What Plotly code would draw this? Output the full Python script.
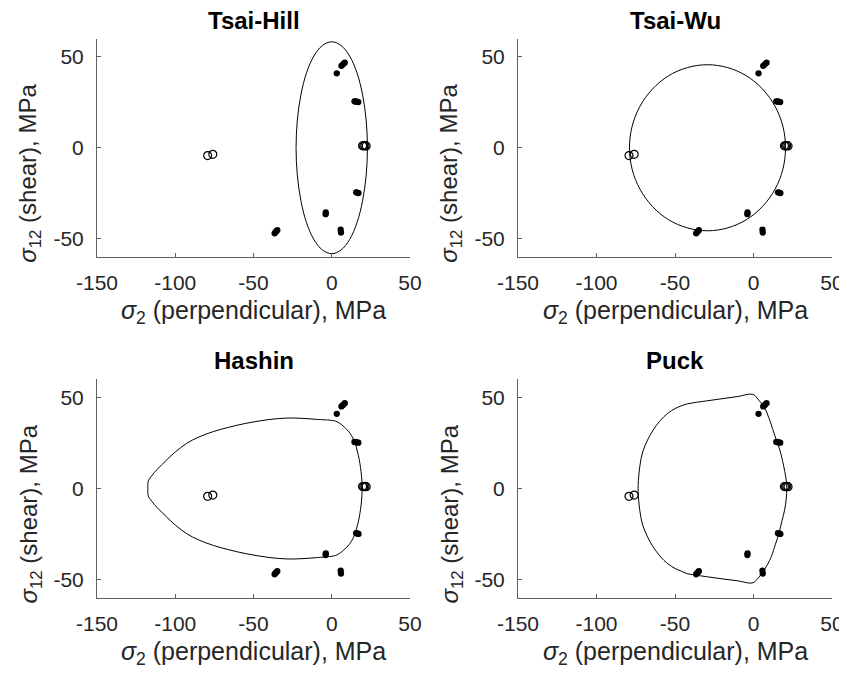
import plotly.graph_objects as go

# ---------------- data ----------------
titles = ["Tsai-Hill", "Tsai-Wu", "Hashin", "Puck"]

# measured failure points: filled dots (sigma_2, sigma_12) in MPa
dots_x = [6.2, 7.2, 8.3, 3.2,
          14.5, 15.3, 16.1, 17.0,
          15.6, 16.3, 17.1,
          -3.8, -3.9,
          5.7, 5.9,
          -36.5, -35.7, -34.8]
dots_y = [45.0, 45.8, 46.7, 40.9,
          25.5, 25.4, 25.3, 25.1,
          -24.5, -24.6, -24.9,
          -35.5, -36.5,
          -45.0, -46.6,
          -47.0, -46.1, -45.3]

# measured failure points: open circles
rings_x = [19.7, 20.4, 21.2, 22.0, -79.3, -76.0]
rings_y = [1.1, 1.0, 1.2, 1.0, -4.3, -3.6]

# failure envelopes (sigma_2, sigma_12)
tsai_hill_x = [22.8, 22.0, 19.7, 16.1, 11.4, 5.9, 0.0, -5.9, -11.4, -16.1, -19.7, -22.0,
               -22.8, -22.0, -19.7, -16.1, -11.4, -5.9, 0.0, 5.9, 11.4, 16.1, 19.7, 22.0, 22.8]
tsai_hill_y = [0.0, 15.1, 29.1, 41.2, 50.4, 56.2, 58.2, 56.2, 50.4, 41.2, 29.1, 15.1,
               0.0, -15.1, -29.1, -41.2, -50.4, -56.2, -58.2, -56.2, -50.4, -41.2, -29.1, -15.1, 0.0]

tsai_wu_x = [20.4, 18.7, 13.7, 5.8, -4.5, -16.4, -29.3, -42.2, -54.2, -64.4, -72.3, -77.3,
             -79.0, -77.3, -72.3, -64.4, -54.2, -42.2, -29.3, -16.4, -4.5, 5.8, 13.7, 18.7, 20.4]
tsai_wu_y = [0.0, 11.8, 22.8, 32.2, 39.5, 44.0, 45.6, 44.0, 39.5, 32.2, 22.8, 11.8,
             0.0, -11.8, -22.8, -32.2, -39.5, -44.0, -45.6, -44.0, -39.5, -32.2, -22.8, -11.8, 0.0]

hashin_x = [19.4, 19.0, 17.6, 16.3, 14.9, 11.7, 9.0, 6.4, 3.5, 1.0, -10.0, -20.2, -28.7,
            -40.0, -54.3, -66.0, -75.6, -85.0, -92.6, -100.0, -105.4, -111.5, -115.0, -117.2,
            -117.5,
            -117.2, -115.0, -111.5, -105.4, -100.0, -92.6, -85.0, -75.6, -66.0, -54.3, -40.0,
            -28.7, -20.2, -10.0, 1.0, 3.5, 6.4, 9.0, 11.7, 14.9, 16.3, 17.6, 19.0, 19.4]
hashin_y = [0.0, 7.0, 15.7, 20.5, 24.9, 30.3, 32.8, 34.9, 36.5, 37.2, 37.9, 38.5, 38.6,
            37.8, 35.8, 33.5, 31.2, 28.2, 24.8, 20.0, 15.7, 10.5, 7.0, 4.2,
            0.0,
            -4.2, -7.0, -10.5, -15.7, -20.0, -24.8, -28.2, -31.2, -33.5, -35.8, -37.8,
            -38.6, -38.5, -37.9, -37.0, -36.3, -34.7, -32.6, -30.1, -24.8, -20.5, -15.7, -7.0, 0.0]

puck_x = [21.2, 20.6, 19.1, 16.8, 14.8, 12.3, 10.0, 7.0, 3.5, -0.4, -10.0, -20.0, -30.0,
          -38.0, -42.5, -46.0, -50.0, -54.0, -57.0, -60.0, -64.0, -67.5, -70.6, -72.3, -73.3,
          -73.5,
          -73.3, -72.3, -70.6, -67.5, -64.0, -60.0, -57.0, -54.0, -50.0, -46.0, -42.5, -38.0,
          -30.0, -20.0, -10.0, -0.4, 3.5, 6.0, 9.0, 11.3, 14.0, 16.2, 18.2, 19.8, 20.8, 21.2]
puck_y = [0.5, 6.0, 12.8, 21.0, 26.0, 32.3, 38.2, 44.3, 48.2, 51.6, 50.4, 49.2, 48.0,
          47.0, 46.3, 45.3, 43.8, 41.6, 39.4, 36.6, 31.9, 26.5, 20.0, 12.8, 4.5,
          0.0,
          -4.5, -12.8, -20.0, -26.5, -31.9, -36.6, -39.4, -41.6, -43.8, -45.3, -46.6, -47.3,
          -48.3, -49.5, -50.6, -51.7, -48.5, -45.6, -41.5, -37.4, -30.5, -24.6, -17.5, -11.9, -6.0, 0.5]

envelopes = [(tsai_hill_x, tsai_hill_y), (tsai_wu_x, tsai_wu_y),
             (hashin_x, hashin_y), (puck_x, puck_y)]

x_ticks = [-150, -100, -50, 0, 50]
x_tick_labels = ["-150", "-100", "-50", "0", "50"]
y_ticks = [-50, 0, 50]
y_tick_labels = ["-50", "0", "50"]
x_range = [-150, 50]
y_range = [-60, 60]

# ---------------- layout geometry ----------------
OFF = 8                                   # browser's default body margin
W, H = 847 - OFF, 676 - 2 * OFF           # keep the page free of scrollbars
col_px = [(97 - OFF, 410 - OFF), (518 - OFF, 832 - OFF)]      # axes x extents
row_px = [(38.5 - OFF, 257 - OFF), (379 - OFF, 598 - OFF)]    # axes y extents

TXT = "#262626"
AX = "#606060"
FONT = "Liberation Sans, Arial, Helvetica, sans-serif"

fig = go.Figure()
layout = dict(
    template="none",
    width=W, height=H, autosize=False,
    margin=dict(l=0, r=0, t=0, b=0, pad=0, autoexpand=False),
    paper_bgcolor="white", plot_bgcolor="white",
    showlegend=False,
    font=dict(family=FONT, color=TXT, size=21),
)
annotations = []

for i, (title, (ex, ey)) in enumerate(zip(titles, envelopes)):
    r, c = divmod(i, 2)
    n = "" if i == 0 else str(i + 1)
    xa, ya = "x" + n, "y" + n
    x0, x1 = col_px[c]
    y0, y1 = row_px[r]
    xdom = [x0 / W, x1 / W]
    ydom = [1 - y1 / H, 1 - y0 / H]

    fig.add_trace(go.Scatter(x=ex, y=ey, mode="lines", xaxis=xa, yaxis=ya,
                             line=dict(color="black", width=1, shape="spline", smoothing=1),
                             hoverinfo="skip"))
    fig.add_trace(go.Scatter(x=dots_x, y=dots_y, mode="markers", xaxis=xa, yaxis=ya,
                             marker=dict(color="black", size=6.3, line=dict(width=0))))
    fig.add_trace(go.Scatter(x=rings_x, y=rings_y, mode="markers", xaxis=xa, yaxis=ya,
                             marker=dict(symbol="circle-open", color="black", size=8,
                                         line=dict(width=1.2, color="black"))))

    common = dict(showgrid=False, zeroline=False, showline=True, linecolor=AX, linewidth=1,
                  ticks="inside", ticklen=4, tickwidth=1, tickcolor=AX, mirror=False,
                  automargin=False, ticklabeloverflow="allow",
                  tickfont=dict(family=FONT, size=21, color=TXT), fixedrange=True)
    layout["xaxis" + n] = dict(domain=xdom, range=x_range, tickmode="array",
                               tickvals=x_ticks, ticktext=x_tick_labels,
                               anchor=ya, ticklabelstandoff=7, **common)
    layout["yaxis" + n] = dict(domain=ydom, range=y_range, tickmode="array",
                               tickvals=y_ticks, ticktext=y_tick_labels,
                               anchor=xa, ticklabelstandoff=8, **common)

    cx = (x0 + x1) / 2
    # subplot title
    annotations.append(dict(text="<b>%s</b>" % title, x=cx / W, y=1 - (y0 - 18.5) / H,
                            xref="paper", yref="paper", xanchor="center", yanchor="middle",
                            showarrow=False, font=dict(family=FONT, size=24, color="black")))
    # x label
    annotations.append(dict(text="<i>σ</i><sub>2</sub> (perpendicular), MPa",
                            x=cx / W, y=1 - (y1 + 55) / H,
                            xref="paper", yref="paper", xanchor="center", yanchor="middle",
                            showarrow=False, font=dict(family=FONT, size=25, color=TXT)))
    # y label
    annotations.append(dict(text="<i>σ</i><sub>12</sub> (shear), MPa",
                            x=(x0 - 67) / W, y=1 - ((y0 + y1) / 2 + 26) / H,
                            xref="paper", yref="paper", xanchor="center", yanchor="middle",
                            textangle=-90,
                            showarrow=False, font=dict(family=FONT, size=24, color=TXT)))

layout["annotations"] = annotations
fig.update_layout(**layout)
fig.write_html("out.html")
